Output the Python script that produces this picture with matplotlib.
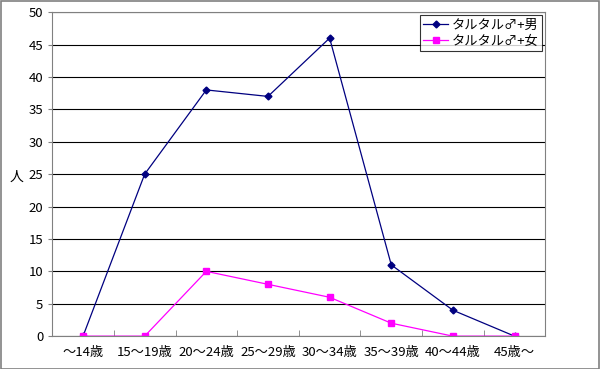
import matplotlib
matplotlib.use('Agg')
import matplotlib.pyplot as plt
from matplotlib.patches import Rectangle

plt.rcParams['font.family'] = ['Noto Sans CJK JP', 'DejaVu Sans']

age_groups = ['～14歳', '15～19歳', '20～24歳', '25～29歳', '30～34歳',
              '35～39歳', '40～44歳', '45歳～']
male = [0, 25, 38, 37, 46, 11, 4, 0]
female = [0, 0, 10, 8, 6, 2, 0, 0]
y_ticks = list(range(0, 55, 5))

fig = plt.figure(figsize=(6, 3.69), dpi=100)
ax = fig.add_axes([0.087, 0.089, 0.822, 0.878])

x = list(range(len(age_groups)))
ax.plot(x, male, color='#000080', marker='D', markersize=3.5, linewidth=0.9,
        label='タルタル♂+男')
ax.plot(x, female, color='#FF00FF', marker='s', markersize=4, linewidth=0.9,
        label='タルタル♂+女')

ax.set_xlim(-0.5, len(age_groups) - 0.5)
ax.set_ylim(0, 50)
ax.set_yticks(y_ticks)
ax.set_xticks(x)
ax.set_xticklabels(age_groups, fontsize=9.5)
ax.tick_params(axis='x', length=0, pad=7)
ax.set_xticks([i + 0.5 for i in x[:-1]], minor=True)
ax.tick_params(axis='x', which='minor', direction='in', length=4, color='#808080')
ax.tick_params(axis='y', direction='out', length=3, labelsize=9.5, color='#808080')
ax.yaxis.grid(True, color='black', linewidth=0.8)
ax.set_axisbelow(True)
for side in ['left', 'bottom', 'right', 'top']:
    ax.spines[side].set_color('#808080')
ax.set_ylabel('人', rotation=0, fontsize=10)
ax.yaxis.set_label_coords(-0.072, 0.47)

leg = ax.legend(loc='upper right', fontsize=9.5, frameon=True, fancybox=False,
                borderaxespad=0.25, handlelength=1.9, borderpad=0.25,
                labelspacing=0.25, handletextpad=0.3)
leg.get_frame().set_edgecolor('black')
leg.get_frame().set_linewidth(0.8)

fig.patches.append(Rectangle((0.001, 0.001), 0.997, 0.996, transform=fig.transFigure,
                             fill=False, edgecolor='#808080', linewidth=1.2))

fig.savefig('out.png', dpi=100)
